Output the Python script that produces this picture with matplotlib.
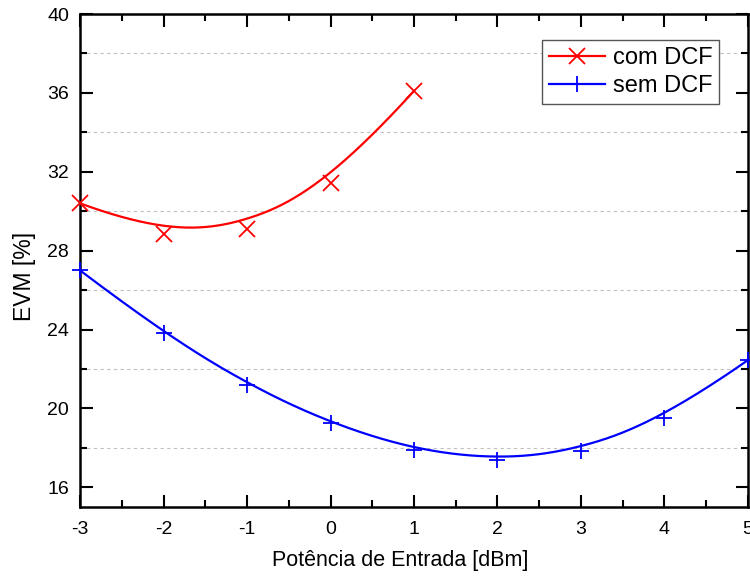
import numpy as np
import matplotlib
matplotlib.use("Agg")
import matplotlib.pyplot as plt
from matplotlib.ticker import MultipleLocator

plt.rcParams['font.family'] = ['Liberation Sans', 'DejaVu Sans']
plt.rcParams['axes.unicode_minus'] = False

# Input power (dBm) and measured EVM (%)
x_com = [-3, -2, -1, 0, 1]
evm_com = [30.4, 28.85, 29.1, 31.45, 36.1]
x_sem = [-3, -2, -1, 0, 1, 2, 3, 4, 5]
evm_sem = [27.0, 23.8, 21.2, 19.25, 17.9, 17.4, 17.85, 19.5, 22.45]


def bspline(px, py, k=3, n=400):
    """Clamped uniform B-spline using the points as control polygon."""
    P = np.column_stack([px, py]).astype(float)
    m = len(P)
    inner = np.arange(1, m - k) / (m - k)
    knots = np.concatenate([np.zeros(k + 1), inner, np.ones(k + 1)])
    t = np.linspace(0, 1, n)
    t[-1] = 1 - 1e-12

    def basis(i, d, tt):
        if d == 0:
            return ((knots[i] <= tt) & (tt < knots[i + 1])).astype(float)
        a = 0.0
        den = knots[i + d] - knots[i]
        if den > 0:
            a = (tt - knots[i]) / den * basis(i, d - 1, tt)
        b = 0.0
        den = knots[i + d + 1] - knots[i + 1]
        if den > 0:
            b = (knots[i + d + 1] - tt) / den * basis(i + 1, d - 1, tt)
        return a + b

    N = np.array([basis(i, k, t) for i in range(m)])
    C = N.T @ P
    return C[:, 0], C[:, 1]


fig = plt.figure(figsize=(7.5, 5.77), dpi=100)
ax = fig.add_axes([0.1067, 0.1213, 0.8906, 0.8544])

for xs, ys, col, mk, lab in [
    (x_com, evm_com, 'red', 'x', 'com DCF'),
    (x_sem, evm_sem, 'blue', '+', 'sem DCF'),
]:
    cx, cy = bspline(xs, ys)
    ax.plot(cx, cy, color=col, lw=1.6, zorder=3)
    ax.plot(xs, ys, linestyle='none', marker=mk, ms=11, mew=1.3,
            color=col, zorder=4, clip_on=False)
    ax.plot([], [], color=col, lw=1.6, marker=mk, ms=11, mew=1.3, label=lab)

ax.set_xlim(-3, 5)
ax.set_ylim(15, 40)
ax.xaxis.set_major_locator(MultipleLocator(1))
ax.xaxis.set_minor_locator(MultipleLocator(0.5))
ax.yaxis.set_minor_locator(MultipleLocator(2))
ax.set_yticks([16, 20, 24, 28, 32, 36, 40])

ax.grid(True, which='minor', axis='y', color='#c0c0c0', ls=(0, (3, 3)), lw=0.8)
ax.tick_params(which='both', direction='in', top=True, right=True,
               labelsize=14, width=1.5)
ax.tick_params(axis='x', pad=10)
ax.tick_params(axis='y', pad=8)
ax.tick_params(which='major', length=9)
ax.tick_params(which='minor', length=5)
for s in ax.spines.values():
    s.set_linewidth(1.8)

ax.set_xlabel('Potência de Entrada [dBm]', fontsize=15.5)
ax.set_ylabel('EVM [%]', fontsize=16.5)
ax.xaxis.set_label_coords(0.479, -0.088, transform=ax.transAxes)
ax.yaxis.set_label_coords(-0.066, 0.467, transform=ax.transAxes)

leg = ax.legend(loc='upper right', bbox_to_anchor=(0.957, 0.947),
                borderaxespad=0, fontsize=17,
                fancybox=False, framealpha=1, edgecolor='#555555',
                handlelength=2.4, handletextpad=0.3, borderpad=0.3,
                labelspacing=0.25)
leg.get_frame().set_linewidth(1.0)

fig.savefig('out.png', dpi=100)
